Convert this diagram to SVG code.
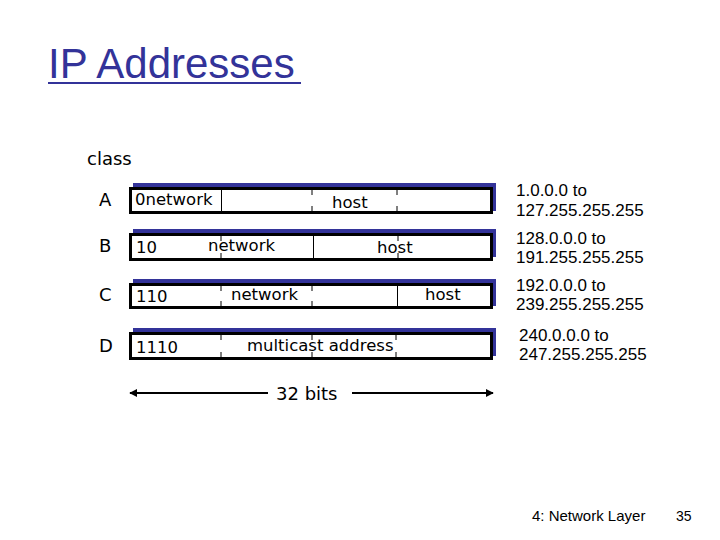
<svg xmlns="http://www.w3.org/2000/svg" width="720" height="540" viewBox="0 0 720 540">
<defs>
<style>
.t{font-family:"DejaVu Sans",sans-serif;fill:#000}
.bx{font-family:"DejaVu Sans",sans-serif;font-size:16.5px;fill:#000}
.rg{font-family:"Liberation Sans",Arial,sans-serif;font-size:17px;fill:#000}
.box{fill:#fff;stroke:#000;stroke-width:3}
.sh{fill:#333399}
.div{stroke:#000;stroke-width:1}
.line{stroke:#000;stroke-width:2;fill:none}
</style>
<marker id="ah" viewBox="0 0 10 10" refX="9" refY="5" markerWidth="4" markerHeight="4" orient="auto-start-reverse" markerUnits="strokeWidth">
<path d="M0,0 L10,5 L0,10 z" fill="#000"/>
</marker>
</defs>
<rect width="720" height="540" fill="#fff"/>
<g id="title">
<text x="48" y="78" style="font-family:'Liberation Sans',Arial,sans-serif;font-size:42px;fill:#333399">IP Addresses</text>
<line x1="48" y1="83" x2="301" y2="83" stroke="#333399" stroke-width="2"/>
</g>
<text class="t" x="87" y="165" font-size="18">class</text>
<g id="rowA">
<text class="t" x="99" y="206" font-size="18">A</text>
<rect class="sh" x="133" y="183" width="363" height="28"/>
<rect class="box" x="130.5" y="188.5" width="361" height="24"/>
<line class="div" x1="221.5" y1="190" x2="221.5" y2="211"/>
<path class="div" d="M312,190v5M312,206v5M397,190v5M397,206v5"/>
<text class="bx" x="135" y="205">0network</text>
<text class="bx" x="332" y="208">host</text>
</g>
<g id="rowB">
<text class="t" x="99" y="252" font-size="18">B</text>
<rect class="sh" x="133" y="229" width="363" height="28"/>
<rect class="box" x="130.5" y="234.5" width="361" height="25"/>
<line class="div" x1="313.5" y1="236" x2="313.5" y2="258"/>
<path class="div" d="M221,236v5M221,253v5M398,236v5M398,253v5"/>
<text class="bx" x="136" y="253">10</text>
<text class="bx" x="208" y="251">network</text>
<text class="bx" x="377" y="253">host</text>
</g>
<g id="rowC">
<text class="t" x="99" y="301" font-size="18">C</text>
<rect class="sh" x="133" y="279" width="363" height="27"/>
<rect class="box" x="130.5" y="284.5" width="361" height="23"/>
<line class="div" x1="397.5" y1="286" x2="397.5" y2="306"/>
<path class="div" d="M221,286v5M221,301v5M312,286v5M312,301v5"/>
<text class="bx" x="136" y="302">110</text>
<text class="bx" x="231" y="300">network</text>
<text class="bx" x="425" y="300">host</text>
</g>
<g id="rowD">
<text class="t" x="99" y="352" font-size="18">D</text>
<rect class="sh" x="133" y="328" width="363" height="28"/>
<rect class="box" x="130.5" y="333.5" width="361" height="25"/>
<path class="div" d="M221,335v5M221,352v5M312,335v5M312,352v5M396,335v5M396,352v5"/>
<text class="bx" x="136" y="353">1110</text>
<text class="bx" x="247" y="351">multicast address</text>
</g>
<g id="ranges">
<text class="rg" x="516" y="196">1.0.0.0 to</text>
<text class="rg" x="516" y="216">127.255.255.255</text>
<text class="rg" x="516" y="244">128.0.0.0 to</text>
<text class="rg" x="516" y="263">191.255.255.255</text>
<text class="rg" x="516" y="291">192.0.0.0 to</text>
<text class="rg" x="516" y="310">239.255.255.255</text>
<text class="rg" x="519" y="341">240.0.0.0 to</text>
<text class="rg" x="519" y="360">247.255.255.255</text>
</g>
<g id="connectors">
<line class="line" x1="130" y1="393" x2="268" y2="393" marker-start="url(#ah)"/>
<line class="line" x1="352" y1="393" x2="493" y2="393" marker-end="url(#ah)"/>
</g>
<text class="t" x="276" y="400" font-size="18">32 bits</text>
<text x="532" y="521" style="font-family:'Liberation Sans',Arial,sans-serif;font-size:15px">4: Network Layer</text>
<text x="676" y="521" style="font-family:'Liberation Sans',Arial,sans-serif;font-size:14px">35</text>
</svg>
